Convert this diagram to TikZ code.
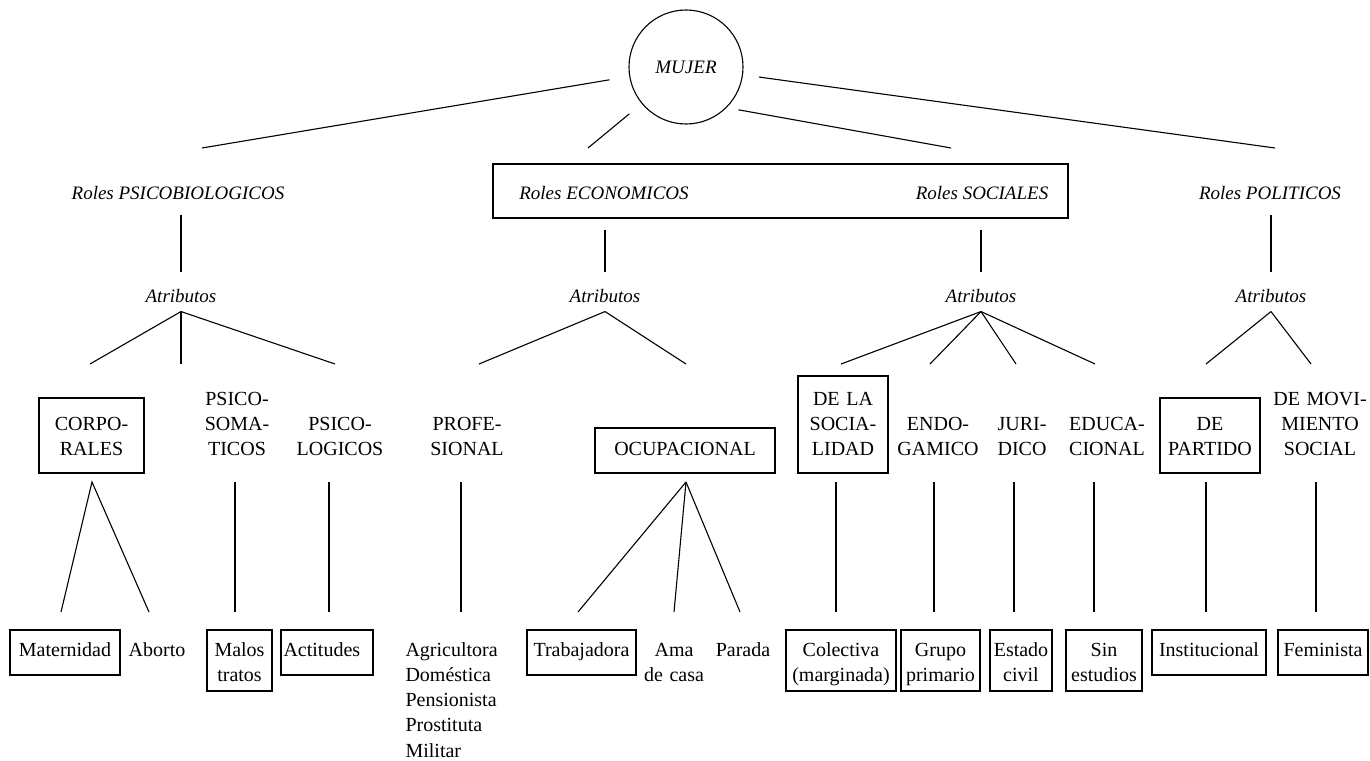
\documentclass[tikz,border=0pt]{standalone}
\usepackage{fontspec}
\setmainfont{Liberation Serif}
\begin{document}
\begin{tikzpicture}[x=1pt,y=-1pt,
  line width=1.1pt,
  txt/.style={inner sep=0pt, font=\fontsize{20}{25}\selectfont},
  itl/.style={inner sep=0pt, font=\fontsize{19}{24}\selectfont\itshape, text height=14pt, text depth=4pt, anchor=base},
  atr/.style={itl, text depth=9pt},
  up/.style={txt, align=center, anchor=base},
  bx/.style={txt, draw, align=center, anchor=base, line width=1.2pt},
  one/.style={text height=26pt, text depth=19pt},
  two/.style={text height=26pt, text depth=35pt},
]
\useasboundingbox (0,0) rectangle (1370,760);

% ---------- root ----------
\node[circle, draw, minimum size=114pt, inner sep=0pt, font=\fontsize{19}{24}\selectfont\itshape] (mujer) at (686,67) {MUJER};

% ---------- roles ----------
\node[draw, line width=1.2pt, minimum width=575pt, minimum height=54pt, inner sep=0pt] (rbox) at (780.5,191) {};
\node[itl] (psico) at (178,199) {Roles PSICOBIOLOGICOS};
\node[itl] (econ) at (604,199) {Roles ECONOMICOS};
\node[itl] (soc) at (982,199) {Roles SOCIALES};
\node[itl] (pol) at (1270,199) {Roles POLITICOS};

\coordinate (f1) at (202,148);
\coordinate (f2) at (588,148);
\coordinate (f3) at (951,148);
\coordinate (f4) at (1275,148);
\draw[shorten <=20pt] (mujer) -- (f1);
\draw[shorten <=16pt] (mujer) -- (f2);
\draw[shorten <=12pt] (mujer.-45) -- (f3);
\draw[shorten <=16pt] (mujer) -- (f4);

% ---------- atributos ----------
\node[atr] (atr1) at (181,302) {Atributos};
\node[atr] (atr2) at (605,302) {Atributos};
\node[atr] (atr3) at (981,302) {Atributos};
\node[atr] (atr4) at (1271,302) {Atributos};

\draw[shorten <=11pt, shorten >=15pt] (atr1.north |- psico.south) -- (atr1.north);
\draw[shorten <=11pt, shorten >=15pt] (atr2.north |- rbox.south) -- (atr2.north);
\draw[shorten <=11pt, shorten >=15pt] (atr3.north |- rbox.south) -- (atr3.north);
\draw[shorten <=11pt, shorten >=15pt] (atr4.north |- pol.south) -- (atr4.north);

\coordinate (a11) at (90,364);
\coordinate (a12) at (181,364);
\coordinate (a13) at (335,364);
\coordinate (a21) at (479,364);
\coordinate (a22) at (686,364);
\coordinate (a31) at (841,364);
\coordinate (a32) at (930,364);
\coordinate (a33) at (1016,364);
\coordinate (a34) at (1095,364);
\coordinate (a41) at (1206,364);
\coordinate (a42) at (1311,364);
\foreach \e in {a11,a12,a13} \draw (atr1.south) -- (\e);
\foreach \e in {a21,a22} \draw (atr2.south) -- (\e);
\foreach \e in {a31,a32,a33,a34} \draw (atr3.south) -- (\e);
\foreach \e in {a41,a42} \draw (atr4.south) -- (\e);

% ---------- attribute kinds ----------
\node[bx, text width=105pt, text height=32pt, text depth=43pt] (corp) at (91.5,430) {CORPO-\\RALES};
\node[up, text width=80pt] (psom) at (237,405) {PSICO-\\SOMA-\\TICOS};
\node[up, text width=96pt] (plog) at (340,430) {PSICO-\\LOGICOS};
\node[up, text width=86pt] (prof) at (467,430) {PROFE-\\SIONAL};
\node[bx, text width=180pt, text height=27pt, text depth=18pt] (ocup) at (685,455) {OCUPACIONAL};
\node[bx, text width=90pt, text height=29pt, text depth=68pt] (dela) at (843,405) {DE LA\\SOCIA-\\LIDAD};
\node[up, text width=86pt] (endo) at (938,430) {ENDO-\\GAMICO};
\node[up, text width=66pt] (juri) at (1022,430) {JURI-\\DICO};
\node[up, text width=84pt] (educ) at (1107,430) {EDUCA-\\CIONAL};
\node[bx, text width=100pt, text height=32pt, text depth=43pt] (part) at (1210,430) {DE\\PARTIDO};
\node[up, text width=96pt] (movi) at (1320,405) {DE MOVI-\\MIENTO\\SOCIAL};

% ---------- leaves ----------
\node[bx, one, text width=110pt] (mat) at (65,656) {Maternidad};
\node[up] (abor) at (157,656) {Aborto};
\node[bx, two, text width=65pt] (malos) at (239.5,656) {Malos\\tratos};
\node[bx, one, text width=87pt, inner xsep=2.5pt, align=left] (acti) at (327,656) {Actitudes};
\node[txt, text width=100pt, align=left, anchor=base west, font=\fontsize{20}{25.3}\selectfont] (agri) at (405,656) {Agricultora\\Doméstica\\Pensionista\\Prostituta\\Militar};
\node[bx, one, text width=109pt] (trab) at (581.5,656) {Trabajadora};
\node[up, text width=60pt] (ama) at (674,656) {Ama\\de casa};
\node[up] (para) at (743,656) {Parada};
\node[bx, two, text width=110pt] (cole) at (841,656) {Colectiva\\(marginada)};
\node[bx, two, text width=79pt] (grup) at (940.5,656) {Grupo\\primario};
\node[bx, two, text width=62pt] (esta) at (1021,656) {Estado\\civil};
\node[bx, two, text width=76pt] (sinb) at (1104,656) {Sin\\estudios};
\node[bx, one, text width=114pt] (inst) at (1209,656) {Institucional};
\node[bx, one, text width=90pt] (femi) at (1323,656) {Feminista};

% ---------- lower connectors ----------
\coordinate (corpapex) at (92,482);
\coordinate (c1) at (61,612);
\coordinate (c2) at (149,612);
\draw (c1) -- (corpapex) -- (c2);
\coordinate (ocupapex) at (686,482);
\coordinate (o1) at (578,612);
\coordinate (o2) at (674,612);
\coordinate (o3) at (740,612);
\foreach \e in {o1,o2,o3} \draw (ocupapex) -- (\e);
\foreach \n/\x in {psom/235,plog/329,prof/461,dela/836,endo/934,juri/1014,educ/1094,part/1206,movi/1316}{
  \coordinate (\n-t) at (\x,482);
  \coordinate (\n-b) at (\x,612);
  \draw (\n-t) -- (\n-b);
}
\end{tikzpicture}
\end{document}
